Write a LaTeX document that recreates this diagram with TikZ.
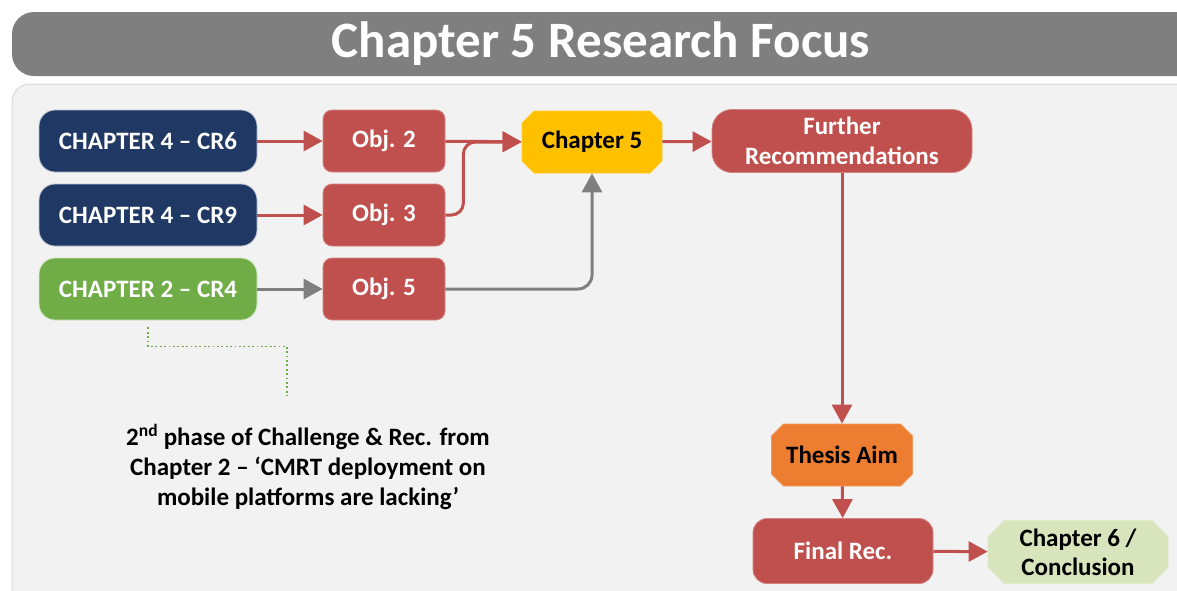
\documentclass[tikz,border=0pt]{standalone}
\usepackage{fontspec}
\setmainfont{Carlito}
\usetikzlibrary{arrows.meta,shapes.misc}

\definecolor{titlegray}{HTML}{7F7F7F}
\definecolor{panelfill}{HTML}{F2F2F2}
\definecolor{panelline}{HTML}{D9D9D9}
\definecolor{navy}{HTML}{203864}
\definecolor{leaf}{HTML}{70AD47}
\definecolor{brick}{HTML}{C0504D}
\definecolor{amber}{HTML}{FFC000}
\definecolor{tangerine}{HTML}{ED7D31}
\definecolor{sage}{HTML}{D8E4BC}

\tikzset{
  box/.style={inner sep=0pt, align=center, font=\fontsize{25}{30}\selectfont\bfseries},
  crbox/.style={box, rounded corners=16pt, minimum width=218pt, minimum height=62pt,
    text=white, draw=white!70!#1, line width=0.8pt, fill=#1},
  objbox/.style={box, rounded corners=9pt, minimum width=122pt, minimum height=62pt,
    text=white, fill=brick, draw=brick!70!white, line width=0.8pt},
  octbox/.style={box, chamfered rectangle, chamfered rectangle xsep=6pt,
    chamfered rectangle ysep=6pt, fill=#1, draw=#1!80!white, line width=0.8pt, text=black},
  flow/.style={line width=3pt, draw=#1, -{Triangle[length=19pt,width=20pt,fill=#1]}},
  hint/.style={draw=leaf, line width=1.8pt, dash pattern=on 1.8pt off 2.6pt}
}

\begin{document}
\begin{tikzpicture}[x=1pt,y=-1pt]
  \useasboundingbox (0,0) rectangle (1177,590);

  % title bar and content panel
  \fill[titlegray, rounded corners=22pt] (12,12) rectangle (1200,76);
  \node[text=white, font=\fontsize{51}{56}\selectfont\bfseries] (title) at (601,44) {Chapter 5 Research Focus};
  \filldraw[fill=panelfill, draw=panelline, line width=1pt, rounded corners=18pt]
    (12,620) -- (12,84) -- (1200,84) -- (1200,620);

  % source challenges
  \node[crbox=navy] (cr6) at (148,141) {CHAPTER 4 -- CR6};
  \node[crbox=navy] (cr9) at (148,215) {CHAPTER 4 -- CR9};
  \node[crbox=leaf] (cr4) at (148,289) {CHAPTER 2 -- CR4};

  % objectives
  \node[objbox] (o2) at (384,141) {Obj. 2};
  \node[objbox] (o3) at (384,215) {Obj. 3};
  \node[objbox] (o5) at (384,289) {Obj. 5};

  % chapter 5 and onwards
  \node[octbox=amber, minimum width=140pt, minimum height=62pt] (ch5) at (592,142) {Chapter 5};
  \node[box, fill=brick, draw=brick!70!white, line width=0.8pt, text=white, rounded corners=20pt,
        minimum width=260pt, minimum height=63pt] (fr) at (842,141) {Further\\Recommendations};
  \node[octbox=tangerine, minimum width=141pt, minimum height=62pt] (aim) at (842,455) {Thesis Aim};
  \node[objbox, rounded corners=14pt, minimum width=180pt, minimum height=65pt] (final) at (843,551) {Final Rec.};
  \node[octbox=sage, chamfered rectangle xsep=8pt, chamfered rectangle ysep=8pt,
        minimum width=180pt, minimum height=62pt,
        font=\fontsize{25}{29}\selectfont\bfseries] (ch6) at (1078,552) {Chapter 6 /\\Conclusion};

  % note about the second phase
  \node[align=center, font=\fontsize{25}{30}\selectfont\bfseries] (note) at (308,467)
    {2\textsuperscript{nd} phase of Challenge \& Rec. from\\Chapter 2 -- `CMRT deployment on\\mobile platforms are lacking'};
  \coordinate (hintend) at (287,396);

  % connectors
  \draw[flow=brick] (cr6) -- (o2);
  \draw[flow=brick] (cr9) -- (o3);
  \draw[flow=titlegray] (cr4) -- (o5);
  \draw[flow=brick] (o2) -- (ch5);
  \draw[flow=brick, rounded corners=12pt] (o3.east) -- ++(18,0) |- (ch5.west);
  \draw[flow=titlegray, rounded corners=14pt] (o5.east) -| (ch5.south);
  \draw[flow=brick] (ch5) -- (fr);
  \draw[flow=brick] (fr) -- (aim);
  \draw[flow=brick] (aim) -- (final);
  \draw[flow=brick] (final) -- (ch6);
  \draw[hint] ([yshift=-7pt]cr4.south) -- ++(0,19) -| (hintend);
\end{tikzpicture}
\end{document}
